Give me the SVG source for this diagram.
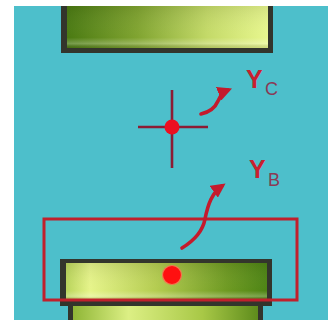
<svg xmlns="http://www.w3.org/2000/svg" width="328" height="320" viewBox="0 0 328 320">
<defs>
<linearGradient id="gTop" x1="0" y1="0" x2="1" y2="0">
<stop offset="0" stop-color="#4a7a12"/>
<stop offset="0.35" stop-color="#80a430"/>
<stop offset="0.7" stop-color="#c4da68"/>
<stop offset="1" stop-color="#e8f78e"/>
</linearGradient>
<linearGradient id="gBot" x1="0" y1="0" x2="1" y2="0">
<stop offset="0" stop-color="#b9d45a"/>
<stop offset="0.12" stop-color="#e6f48a"/>
<stop offset="0.45" stop-color="#b4cc50"/>
<stop offset="0.8" stop-color="#6e9a22"/>
<stop offset="1" stop-color="#4d8414"/>
</linearGradient>
<linearGradient id="gLow" x1="0" y1="0" x2="1" y2="0">
<stop offset="0" stop-color="#8fb636"/>
<stop offset="0.3" stop-color="#dcef84"/>
<stop offset="0.7" stop-color="#a8c846"/>
<stop offset="1" stop-color="#5e8c1c"/>
</linearGradient>
<linearGradient id="shade" x1="0" y1="0" x2="0" y2="1">
<stop offset="0" stop-color="#000" stop-opacity="0.08"/>
<stop offset="0.75" stop-color="#fff" stop-opacity="0"/>
<stop offset="0.9" stop-color="#fff" stop-opacity="0.25"/>
<stop offset="1" stop-color="#000" stop-opacity="0.1"/>
</linearGradient>
<marker id="ah" viewBox="0 0 10 10" refX="7" refY="5" markerWidth="4" markerHeight="4" orient="auto">
<path d="M0,0 L10,5 L0,10 Z" fill="#c41a2c"/>
</marker>
</defs>
<style>
.cross{stroke:#8c1c34;stroke-width:2.6;fill:none}
.arr{stroke:#c41a2c;stroke-width:3.6;fill:none;stroke-linecap:round}
.lab{font-family:"Liberation Sans",Arial,sans-serif;font-weight:bold;fill:#c8202e}
.sub{font-family:"Liberation Sans",Arial,sans-serif;fill:#8a3a55}
.box{fill:none;stroke:#c0202c;stroke-width:3}
.dark{fill:#33352c}
</style>
<rect x="0" y="0" width="328" height="320" fill="#ffffff"/>
<rect x="14" y="6" width="314" height="314" fill="#4dbfcb"/>

<g id="top-bar">
<rect class="dark" x="61" y="6" width="212" height="47"/>
<rect x="67" y="6" width="201" height="42" fill="url(#gTop)"/>
<rect x="67" y="6" width="201" height="42" fill="url(#shade)"/>
</g>

<g id="bottom-bar">
<rect class="dark" x="68" y="300" width="195" height="20"/>
<rect x="73" y="306" width="185" height="14" fill="url(#gLow)"/>
<rect class="dark" x="60" y="259" width="212" height="47"/>
<rect x="66" y="263" width="201" height="37" fill="url(#gBot)"/>
<rect x="66" y="263" width="201" height="37" fill="url(#shade)"/>
<circle cx="172" cy="275" r="9.5" fill="#ff1010" stroke="#f07a50" stroke-width="1.2"/>
</g>

<g id="centroid">
<line class="cross" x1="138" y1="127" x2="208" y2="127"/>
<line class="cross" x1="172" y1="90" x2="172" y2="168"/>
<circle cx="172" cy="127" r="7.5" fill="#ec1020"/>
</g>

<g id="box-B">
<rect class="box" x="44" y="219" width="253" height="81"/>
</g>

<g id="connectors">
<path class="arr" d="M201,114 C210,112 215,108 218,101 C221,95 223,92 228,90" marker-end="url(#ah)"/>
<path class="arr" d="M182,248 C195,240 203,230 205,219 C208,204 212,193 222,186" marker-end="url(#ah)"/>
</g>

<g id="label-Yc">
<text class="lab" x="246" y="88" font-size="25">Y</text>
<text class="sub" x="265" y="95" font-size="18">C</text>
</g>
<g id="label-Yb">
<text class="lab" x="249" y="178" font-size="25">Y</text>
<text class="sub" x="268" y="186" font-size="18">B</text>
</g>
</svg>
